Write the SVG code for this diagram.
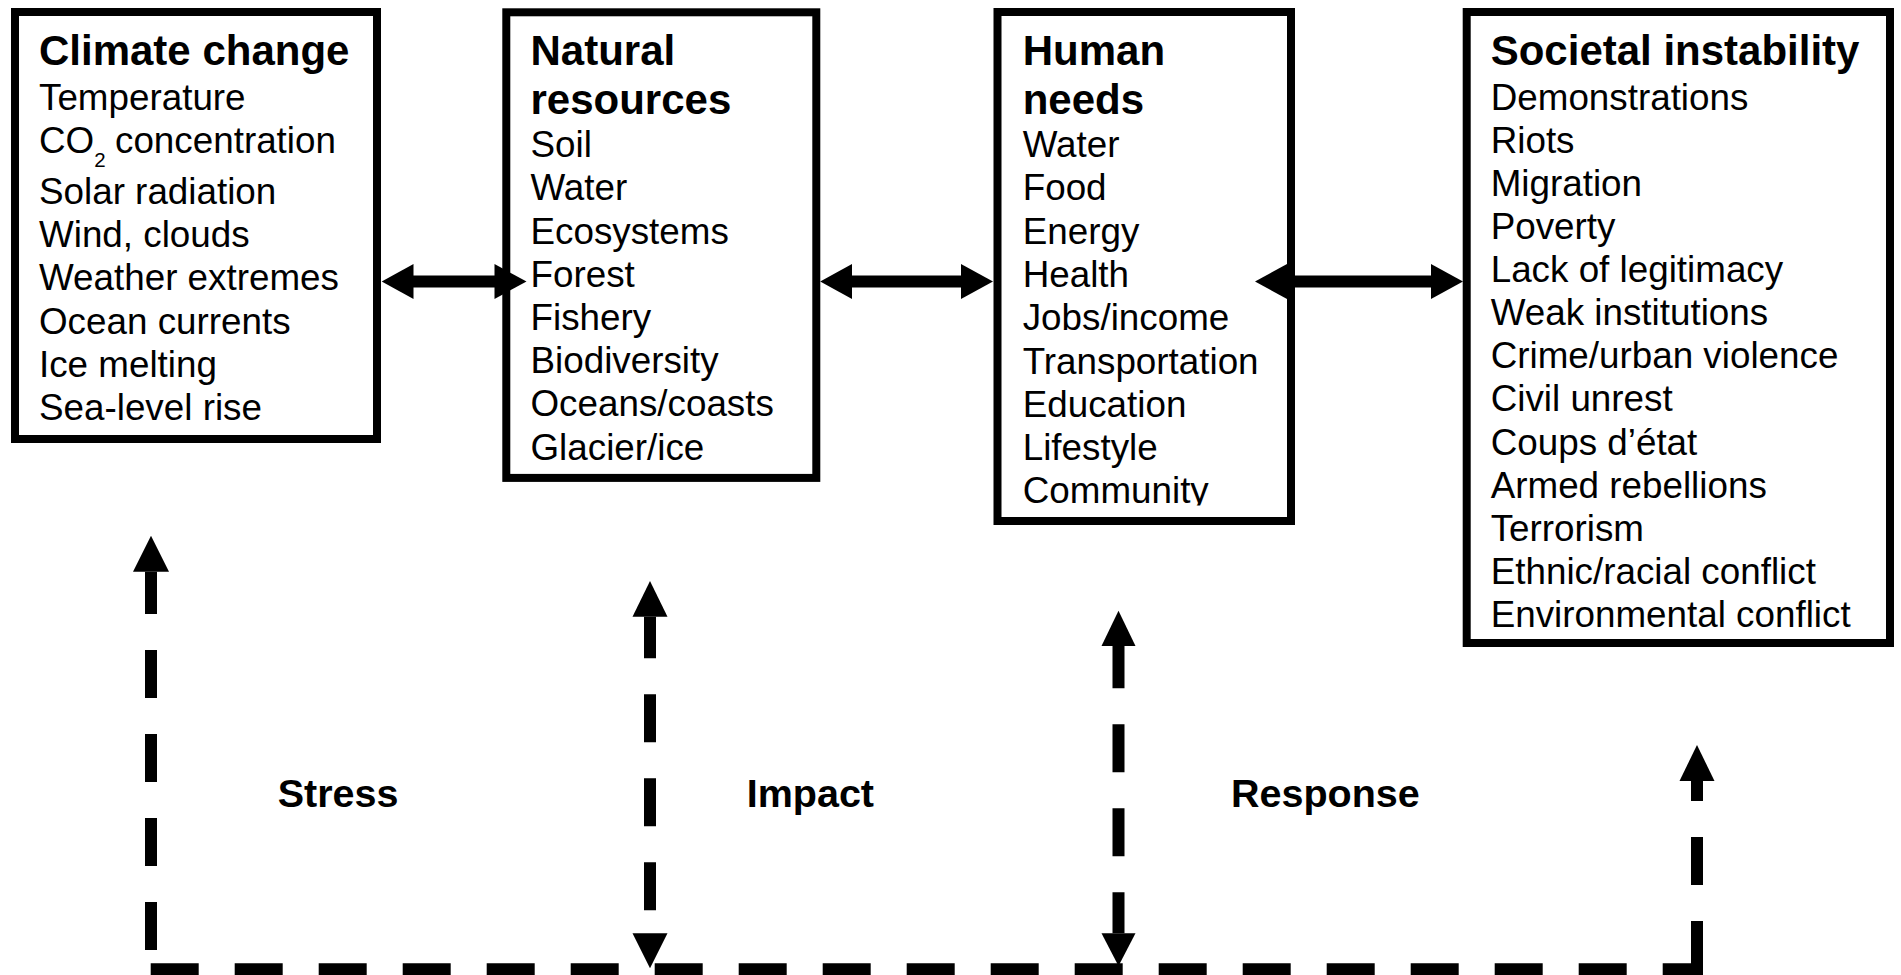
<svg xmlns="http://www.w3.org/2000/svg" width="1901" height="975" viewBox="0 0 1901 975">
<style>
.box{fill:#fff;stroke:#000;stroke-width:8}
.t{font-family:"Liberation Sans",Arial,sans-serif;font-size:42px;font-weight:bold;fill:#000}
.i{font-family:"Liberation Sans",Arial,sans-serif;font-size:36.8px;fill:#000}
.lab{font-family:"Liberation Sans",Arial,sans-serif;font-size:39.5px;font-weight:bold;fill:#000}
.shaft{stroke:#000;stroke-width:12;fill:none}
.dash{stroke:#000;stroke-width:12;fill:none;stroke-dasharray:48 36}
.head{fill:#000}
</style>
<defs>
<clipPath id="clipHuman"><rect x="997" y="0" width="300" height="505.5"/></clipPath>
</defs>
<rect width="1901" height="975" fill="#fff"/>

<g id="climate-change">
<rect class="box" x="15" y="12" width="362" height="427"/>
<text class="t" x="39" y="65">Climate change</text>
<text class="i" x="39" y="110">Temperature</text>
<text class="i" x="39" y="153"><tspan>CO</tspan><tspan font-size="20.5" dy="14">2</tspan><tspan x="115" dy="-14">concentration</tspan></text>
<text class="i" x="39" y="204">Solar radiation</text>
<text class="i" x="39" y="247.2">Wind, clouds</text>
<text class="i" x="39" y="290.4">Weather extremes</text>
<text class="i" x="39" y="333.6">Ocean currents</text>
<text class="i" x="39" y="376.8">Ice melting</text>
<text class="i" x="39" y="420">Sea-level rise</text>
</g>

<g id="natural-resources">
<rect class="box" x="506.3" y="12.3" width="310" height="465.6"/>
<text class="t" x="530.5" y="64.5">Natural</text>
<text class="t" x="530.5" y="113.5">resources</text>
<text class="i" x="530.5" y="157.2">Soil</text>
<text class="i" x="530.5" y="200.4">Water</text>
<text class="i" x="530.5" y="243.6">Ecosystems</text>
<text class="i" x="530.5" y="286.8">Forest</text>
<text class="i" x="530.5" y="330">Fishery</text>
<text class="i" x="530.5" y="373.2">Biodiversity</text>
<text class="i" x="530.5" y="416.4">Oceans/coasts</text>
<text class="i" x="530.5" y="459.6">Glacier/ice</text>
</g>

<g id="human-needs">
<rect class="box" x="997.5" y="12" width="293.5" height="509"/>
<g clip-path="url(#clipHuman)">
<text class="t" x="1022.7" y="65">Human</text>
<text class="t" x="1022.7" y="113.5">needs</text>
<text class="i" x="1022.7" y="157">Water</text>
<text class="i" x="1022.7" y="200.3">Food</text>
<text class="i" x="1022.7" y="243.6">Energy</text>
<text class="i" x="1022.7" y="286.9">Health</text>
<text class="i" x="1022.7" y="330.2">Jobs/income</text>
<text class="i" x="1022.7" y="373.5">Transportation</text>
<text class="i" x="1022.7" y="416.8">Education</text>
<text class="i" x="1022.7" y="460.1">Lifestyle</text>
<text class="i" x="1022.7" y="503.4">Community</text>
</g>
</g>

<g id="societal-instability">
<rect class="box" x="1466.7" y="12" width="423.3" height="631"/>
<text class="t" x="1490.7" y="65">Societal instability</text>
<text class="i" x="1490.7" y="110">Demonstrations</text>
<text class="i" x="1490.7" y="153.1">Riots</text>
<text class="i" x="1490.7" y="196.1">Migration</text>
<text class="i" x="1490.7" y="239.2">Poverty</text>
<text class="i" x="1490.7" y="282.2">Lack of legitimacy</text>
<text class="i" x="1490.7" y="325.3">Weak institutions</text>
<text class="i" x="1490.7" y="368.4">Crime/urban violence</text>
<text class="i" x="1490.7" y="411.4">Civil unrest</text>
<text class="i" x="1490.7" y="454.5">Coups d’état</text>
<text class="i" x="1490.7" y="497.5">Armed rebellions</text>
<text class="i" x="1490.7" y="540.6">Terrorism</text>
<text class="i" x="1490.7" y="583.7">Ethnic/racial conflict</text>
<text class="i" x="1490.7" y="626.7">Environmental conflict</text>
</g>

<g id="connectors">
<line class="shaft" x1="410" y1="281.5" x2="497" y2="281.5"/>
<polygon class="head" points="381.7,281.5 413.5,264 413.5,299"/>
<polygon class="head" points="526.5,281.5 494.5,264 494.5,299"/>

<line class="shaft" x1="848" y1="281.5" x2="966" y2="281.5"/>
<polygon class="head" points="820.2,281.5 852,264 852,299"/>
<polygon class="head" points="993,281.5 961,264 961,299"/>

<line class="shaft" x1="1284" y1="281.5" x2="1434" y2="281.5"/>
<polygon class="head" points="1255,281.5 1287,264 1287,299"/>
<polygon class="head" points="1463,281.5 1431,264 1431,299"/>

<line class="dash" x1="151" y1="950" x2="151" y2="571.7"/>
<polygon class="head" points="151,535.7 133,571.7 169,571.7"/>

<line class="dash" x1="650" y1="933.3" x2="650" y2="616.7" stroke-dashoffset="61"/>
<polygon class="head" points="650,581 632.5,616.7 667.5,616.7"/>
<polygon class="head" points="650,968.3 632.5,933.3 667.5,933.3"/>

<line class="dash" x1="1118.5" y1="933.3" x2="1118.5" y2="646" stroke-dashoffset="7"/>
<polygon class="head" points="1118.5,610.7 1101.5,646 1135.5,646"/>
<polygon class="head" points="1118.5,966 1101.5,933.3 1135.5,933.3"/>

<line class="dash" x1="1697" y1="969" x2="1697" y2="781"/>
<polygon class="head" points="1697,745 1679.5,781 1714.5,781"/>

<line class="dash" x1="150.7" y1="969.3" x2="1703" y2="969.3"/>
</g>

<g id="labels">
<text class="lab" x="277.7" y="807.3">Stress</text>
<text class="lab" x="746.7" y="807.3">Impact</text>
<text class="lab" x="1231" y="807.3">Response</text>
</g>
</svg>
